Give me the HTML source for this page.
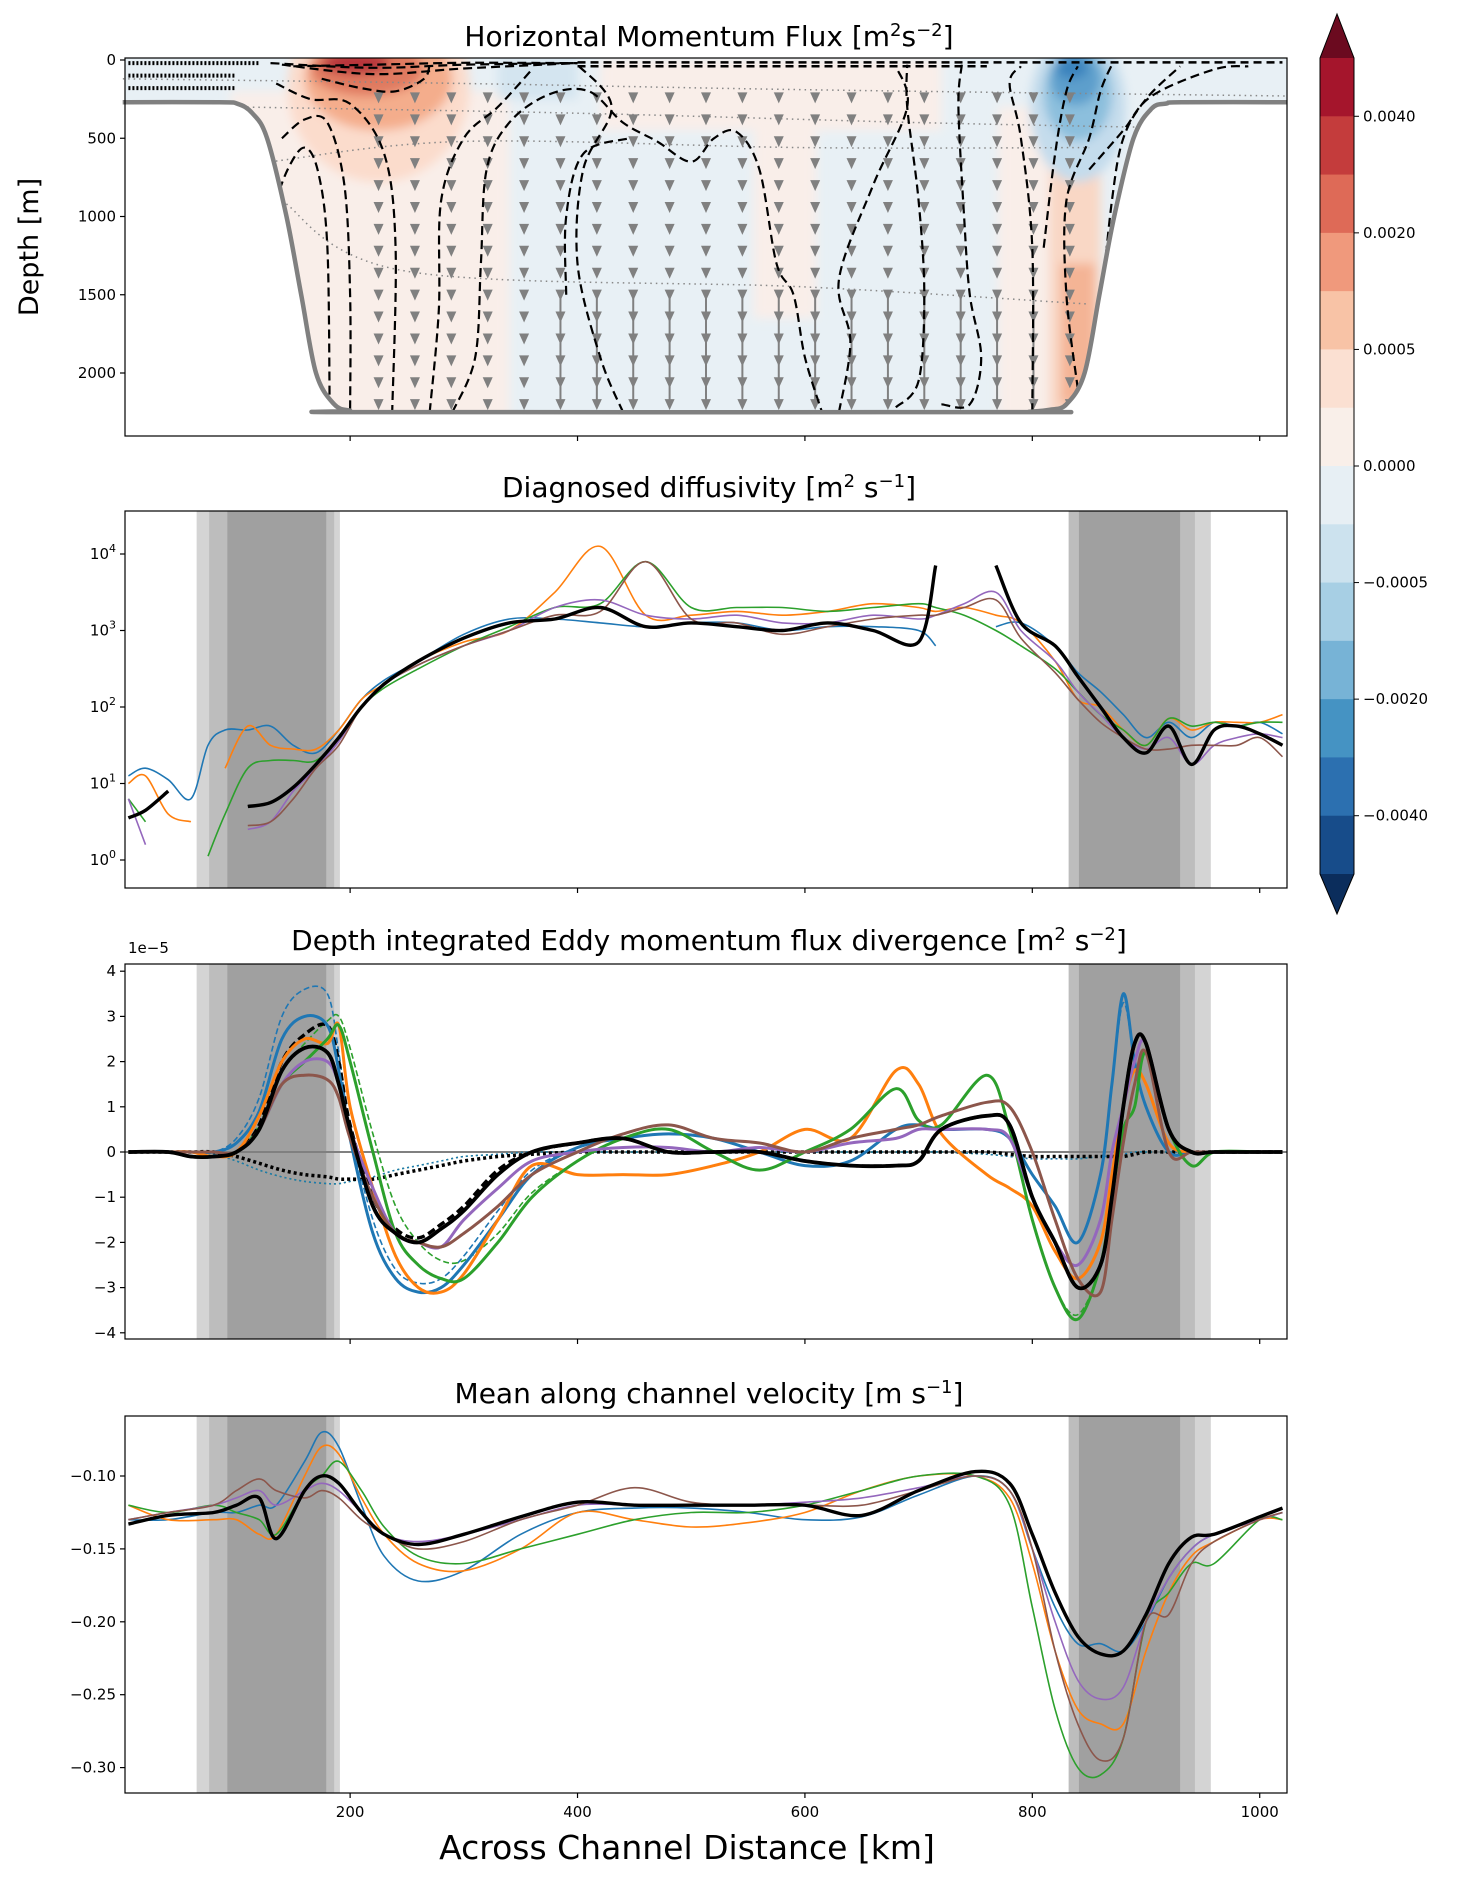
<!DOCTYPE html>
<html><head><meta charset="utf-8">
<style>
html,body{margin:0;padding:0;background:#fff;}
svg{display:block;font-family:"DejaVu Sans","Liberation Sans",sans-serif;}
</style></head>
<body>
<svg id="fig" width="1466" height="1881" viewBox="0 0 1466 1881" xmlns="http://www.w3.org/2000/svg">
<defs>
<clipPath id="basin"><path id="basinPath"/></clipPath>
<clipPath id="c2"><rect x="125" y="511" width="1162" height="377"/></clipPath>
<clipPath id="c3"><rect x="125" y="964" width="1162" height="375"/></clipPath>
<clipPath id="c4"><rect x="125" y="1416" width="1162" height="377"/></clipPath>
<filter id="blur" x="-20%" y="-20%" width="140%" height="140%"><feGaussianBlur stdDeviation="5"/></filter>
</defs>
<g id="root"></g>
</svg>
<script>
// ---------- data ----------
const xTicks = [200,400,600,800,1000];
const depthTicks = [0,500,1000,1500,2000];
const logTicks = [0,1,2,3,4];
const eddyTicks = [-4,-3,-2,-1,0,1,2,3,4];
const velTicks = [-0.30,-0.25,-0.20,-0.15,-0.10];
const cbLabels = ["0.0040","0.0020","0.0005","0.0000","\u22120.0005","\u22120.0020","\u22120.0040"];
const cbColors = ["#a5152c","#c43c3c","#de6a57","#f0997c","#f8c3a6","#fbe0d2","#f9efe9","#e7eff4","#cce2ee","#a7cfe4","#77b3d6","#4593c3","#2c70b0","#174c8a"];
const bandsLeft = [65,76,92,179,186,191];
const bandsRight = [832,841,930,943,957];
// topography
const topoX = [0,85,101,114,127,144,157,170,186,200,212,790,797,815,830,846,859,872,889,905,918,931,1024];
const topoD = [270,270,280,340,500,1000,1500,2000,2200,2240,2250,2250,2248,2235,2200,2000,1500,1000,500,310,278,270,270];
// panel 2 (log10 diffusivity)
const X2 = [5,20,40,60,75,90,110,130,150,170,190,210,230,260,300,340,380,420,460,500,540,580,620,660,700,715,740,768,790,820,840,860,880,900,920,940,960,980,1000,1020];
const diffBlack = [0.55,0.65,0.9,null,null,null,0.7,0.75,0.95,1.25,1.6,2.0,2.3,2.6,2.9,3.1,3.15,3.3,3.05,3.1,3.05,3.0,3.1,3.0,2.85,3.85,null,3.85,3.1,2.8,2.4,2.0,1.6,1.4,1.75,1.25,1.7,1.75,1.65,1.5];
const diffBlue = [1.1,1.2,1.05,0.8,1.5,1.7,1.7,1.75,1.5,1.4,1.7,2.1,2.35,2.6,2.95,3.15,3.15,3.1,3.05,3.1,3.1,3.0,3.05,3.05,3.0,2.8,null,3.05,3.1,2.8,2.45,2.2,1.9,1.6,1.8,1.6,1.8,1.75,1.8,1.65];
const diffOrange = [1.0,1.1,0.6,0.5,null,1.2,1.75,1.5,1.45,1.45,1.7,2.1,2.3,2.6,2.85,3.0,3.5,4.1,3.2,3.2,3.25,3.2,3.25,3.35,3.3,3.25,3.3,3.2,3.1,2.6,2.1,2.0,1.7,1.5,1.85,1.7,1.8,1.8,1.8,1.9];
const diffGreen = [0.8,0.5,null,null,0.05,0.6,1.2,1.3,1.3,1.3,1.6,2.0,2.25,2.5,2.8,3.05,3.3,3.35,3.9,3.3,3.3,3.3,3.25,3.3,3.35,3.3,3.2,3.0,2.8,2.5,2.2,1.9,1.7,1.5,1.85,1.75,1.8,1.75,1.8,1.8];
const diffPurple = [0.8,0.2,null,null,null,null,0.4,0.5,0.9,1.2,1.55,2.0,2.3,2.55,2.8,3.0,3.3,3.4,3.2,3.15,3.2,3.1,3.1,3.2,3.15,3.2,3.35,3.5,3.0,2.6,2.2,1.9,1.6,1.45,1.6,1.25,1.5,1.6,1.65,1.6];
const diffBrown = [null,null,null,null,null,null,0.45,0.5,0.8,1.2,1.5,2.0,2.3,2.55,2.8,3.0,3.2,3.25,3.9,3.15,3.1,2.95,3.05,3.15,3.2,3.2,3.3,3.4,2.9,2.45,2.1,1.8,1.6,1.45,1.45,1.5,1.5,1.5,1.6,1.35];
// panel 3 (x1e-5)
const X3 = [5,40,60,80,100,120,140,160,180,190,200,220,240,260,280,300,330,360,400,440,480,520,560,600,640,680,700,720,760,780,800,820,840,860,870,880,890,900,920,940,960,1000,1020];
const eddyBlack = [0,0,-0.1,-0.1,0,0.5,1.8,2.3,2.2,1.5,0.5,-1.2,-1.8,-2.0,-1.7,-1.3,-0.5,0,0.2,0.3,0,0,0,-0.2,-0.3,-0.3,-0.2,0.5,0.8,0.6,-1.0,-2.0,-3.0,-2.5,-1.0,1.0,2.4,2.4,0.5,0,0,0,0];
const eddyBlue = [0,0,0,0,0.2,0.9,2.5,3.0,2.8,1.8,0.3,-1.8,-2.8,-3.1,-3.0,-2.5,-1.5,-0.5,0.1,0.3,0.4,0.3,0,-0.3,-0.2,0.5,0.6,0.5,0.5,0.3,-0.5,-1.2,-2.0,-0.5,1.5,3.5,2.0,1.0,0,0,0,0,0];
const eddyOrange = [0,0,0,-0.1,0,0.8,2.0,2.5,2.4,2.8,1.0,-0.8,-2.3,-3.0,-3.1,-2.7,-1.5,-0.3,-0.5,-0.5,-0.5,-0.3,0,0.5,0.3,1.8,1.5,0.4,-0.5,-0.8,-1.2,-2.2,-2.8,-2.0,-0.5,1.0,1.8,1.5,0.2,0,0,0,0];
const eddyGreen = [0,0,0,0,0,0.5,1.5,2.0,2.5,2.8,2.0,0,-1.8,-2.5,-2.8,-2.8,-2.0,-1.0,-0.2,0.3,0.5,0,-0.4,0,0.5,1.4,0.7,0.6,1.7,0.5,-1.5,-3.0,-3.7,-2.5,-1.0,0.5,1.0,2.2,0.5,-0.3,0,0,0];
const eddyPurple = [0,0,0,0,0,0.5,1.5,2.0,2.0,1.5,0.5,-0.8,-1.8,-2.0,-2.1,-1.5,-0.8,-0.2,0,0.1,0.1,0,0.1,0,0.2,0.3,0.5,0.5,0.5,0.3,-1.0,-2.0,-2.5,-1.5,0,1.0,2.0,2.4,0.5,0,0,0,0];
const eddyBrown = [0,0,0,0,0,0.5,1.5,1.7,1.6,1.2,0.3,-1.0,-1.8,-2.0,-2.1,-1.8,-1.2,-0.5,0,0.4,0.6,0.3,0.2,0,0.3,0.5,0.6,0.8,1.1,1.0,0,-1.5,-2.8,-3.1,-1.5,0.2,1.5,2.2,0,0,0,0,0];
const eddyBlackDash = [0,0,-0.1,-0.1,0,0.6,2.0,2.6,2.8,2.0,0.6,-1.0,-1.7,-1.9,-1.6,-1.2,-0.4,0,0.2,0.3,0,0,0,-0.2,-0.3,-0.3,-0.2,0.5,0.8,0.6,-1.0,-2.0,-3.0,-2.5,-1.0,1.0,2.4,2.4,0.5,0,0,0,0];
const eddyBlueDash = [0,0,0,0,0.3,1.2,3.0,3.6,3.5,2.2,0.5,-1.5,-2.6,-2.9,-2.8,-2.3,-1.3,-0.4,0.1,0.3,0.4,0.3,0,-0.3,-0.2,0.5,0.6,0.5,0.5,0.3,-0.5,-1.2,-2.0,-0.5,1.5,3.3,2.0,1.0,0,0,0,0,0];
const eddyGreenDash = [0,0,0,0,0,0.6,1.8,2.4,2.9,3.0,2.3,0.4,-1.2,-2.0,-2.4,-2.4,-1.8,-0.9,-0.2,0.3,0.5,0,-0.4,0,0.5,1.4,0.7,0.6,1.7,0.5,-1.5,-3.0,-3.6,-2.5,-1.0,0.5,1.0,2.2,0.5,-0.3,0,0,0];
const eddyBlackDot = [0,0,0,0,-0.1,-0.25,-0.4,-0.5,-0.55,-0.6,-0.6,-0.6,-0.5,-0.4,-0.3,-0.2,-0.1,-0.05,0,0,0,0,0,0,0,0,0,0,0,-0.05,-0.1,-0.1,-0.1,-0.1,-0.1,-0.1,-0.05,0,0,0,0,0,0];
const eddyColorDot = [0,0,0,-0.05,-0.2,-0.4,-0.55,-0.65,-0.7,-0.7,-0.65,-0.55,-0.4,-0.3,-0.2,-0.1,-0.05,0,0,0,0,0,0,0,0,0,0,0,-0.05,-0.1,-0.15,-0.15,-0.15,-0.1,-0.1,-0.05,0,0,0,0,0,0,0];
// panel 4 velocity
const X4 = [5,40,80,100,120,135,160,175,190,210,230,260,300,350,400,450,500,550,600,650,700,750,780,800,820,840,860,880,900,920,940,960,1000,1020];
const velBlack = [-0.133,-0.127,-0.125,-0.12,-0.115,-0.143,-0.11,-0.10,-0.105,-0.125,-0.14,-0.147,-0.14,-0.128,-0.118,-0.12,-0.12,-0.12,-0.12,-0.127,-0.11,-0.097,-0.105,-0.14,-0.18,-0.21,-0.222,-0.22,-0.195,-0.16,-0.142,-0.14,-0.128,-0.122];
const velBlue = [-0.13,-0.13,-0.125,-0.125,-0.12,-0.12,-0.09,-0.07,-0.08,-0.12,-0.155,-0.172,-0.165,-0.14,-0.125,-0.122,-0.122,-0.125,-0.13,-0.128,-0.113,-0.10,-0.11,-0.15,-0.19,-0.215,-0.215,-0.22,-0.2,-0.17,-0.15,-0.14,-0.13,-0.125];
const velOrange = [-0.12,-0.13,-0.13,-0.13,-0.14,-0.14,-0.1,-0.08,-0.085,-0.115,-0.14,-0.16,-0.165,-0.15,-0.125,-0.13,-0.135,-0.132,-0.125,-0.11,-0.10,-0.10,-0.115,-0.16,-0.22,-0.26,-0.27,-0.27,-0.22,-0.18,-0.155,-0.145,-0.13,-0.13];
const velGreen = [-0.12,-0.125,-0.12,-0.125,-0.13,-0.14,-0.11,-0.10,-0.09,-0.11,-0.135,-0.155,-0.16,-0.15,-0.14,-0.13,-0.125,-0.125,-0.12,-0.11,-0.10,-0.10,-0.12,-0.19,-0.26,-0.30,-0.305,-0.28,-0.2,-0.18,-0.16,-0.16,-0.13,-0.13];
const velPurple = [-0.13,-0.125,-0.12,-0.115,-0.11,-0.12,-0.11,-0.105,-0.11,-0.125,-0.14,-0.145,-0.14,-0.13,-0.12,-0.12,-0.12,-0.12,-0.118,-0.115,-0.108,-0.10,-0.11,-0.15,-0.20,-0.24,-0.253,-0.245,-0.2,-0.17,-0.15,-0.14,-0.13,-0.125];
const velBrown = [-0.13,-0.125,-0.12,-0.11,-0.102,-0.11,-0.115,-0.11,-0.115,-0.13,-0.14,-0.15,-0.145,-0.13,-0.12,-0.108,-0.118,-0.12,-0.12,-0.12,-0.11,-0.10,-0.11,-0.15,-0.22,-0.27,-0.295,-0.28,-0.2,-0.195,-0.16,-0.145,-0.13,-0.125];
// contours in panel 1 as [km, depth] pairs
const contour1 = [[130,1000],[145,700],[160,560],[172,720],[180,1200],[182,2250]];
const contour2 = [[140,500],[160,380],[180,400],[195,800],[200,1500],[200,2250]];
const contour3 = [[135,150],[165,250],[200,280],[230,600],[240,1200],[237,2250]];
const contour4 = [[175,120],[210,180],[240,200],[265,120],[270,20]];
const contour5 = [[270,2250],[278,1600],[280,900],[300,500],[330,300],[360,60]];
const contour6 = [[290,2250],[310,1900],[315,1300],[320,700],[340,400],[375,220],[410,200],[440,400],[470,520],[500,650],[520,500],[540,460],[560,700],[575,1300],[590,1500],[600,1900],[615,2250]];
const contour7 = [[390,1500],[390,1000],[405,600],[445,500]];
const contour8 = [[440,2250],[420,1900],[400,1300],[405,700],[430,300],[400,30]];
const contour9 = [[630,2250],[640,1800],[630,1400],[660,800],[690,300],[680,40]];
const contour10 = [[680,2220],[700,2050],[705,1500],[700,900],[690,300],[690,30]];
const contour11 = [[720,2200],[745,2200],[755,1900],[745,1500],[740,1000],[735,300],[738,30]];
const contour12 = [[800,2250],[800,1200],[790,500],[780,150],[790,40]];
const contour13 = [[810,1200],[820,600],[830,200],[840,40]];
const contour14 = [[840,2100],[830,1500],[830,900],[850,500],[860,200],[870,30]];
const contour15 = [[860,1600],[870,900],[880,500],[900,250],[930,40]];
const contour16 = [[850,700],[880,450],[905,230],[960,60],[990,40]];

// ---------- helpers ----------
const NS = "http://www.w3.org/2000/svg";
const root = document.getElementById('root');
const AX_L = 125, AX_R = 1287;
const X_MIN = 2, X_MAX = 1024;
function sx(v){ return AX_L + (v - X_MIN) / (X_MAX - X_MIN) * (AX_R - AX_L); }
function mk(tag, attrs, parent){ const e = document.createElementNS(NS, tag); for (const k in attrs) e.setAttribute(k, attrs[k]); (parent||root).appendChild(e); return e; }
function smoothPath(pts){
  if (pts.length < 2) return '';
  let d = 'M' + pts[0][0].toFixed(1) + ',' + pts[0][1].toFixed(1);
  for (let i = 0; i < pts.length - 1; i++){
    const p0 = pts[i-1] || pts[i], p1 = pts[i], p2 = pts[i+1], p3 = pts[i+2] || p2;
    const c1x = p1[0] + (p2[0]-p0[0])/6, c1y = p1[1] + (p2[1]-p0[1])/6;
    const c2x = p2[0] - (p3[0]-p1[0])/6, c2y = p2[1] - (p3[1]-p1[1])/6;
    d += 'C' + c1x.toFixed(1)+','+c1y.toFixed(1)+' '+c2x.toFixed(1)+','+c2y.toFixed(1)+' '+p2[0].toFixed(1)+','+p2[1].toFixed(1);
  }
  return d;
}
function series(xs, ys, yfn, color, width, name, clip, dash){
  let d = '', seg = [];
  for (let i = 0; i < xs.length; i++){
    if (ys[i] === null){ d += smoothPath(seg); seg = []; continue; }
    seg.push([sx(xs[i]), yfn(ys[i])]);
  }
  d += smoothPath(seg);
  const p = mk('path', {d: d, fill: 'none', stroke: color, 'stroke-width': width, 'stroke-linejoin': 'round', 'clip-path': 'url(#' + clip + ')'});
  if (dash) p.setAttribute('stroke-dasharray', dash);
  
  
  return p;
}
function text(x, y, s, size, anchor, name, extra){
  const t = mk('text', Object.assign({x: x, y: y, 'font-size': size, 'text-anchor': anchor || 'middle', fill: '#000'}, extra || {}));
  t.innerHTML = s;
  
  
  return t;
}
function frame(top, bot, name){
  const r = mk('rect', {x: AX_L, y: top, width: AX_R-AX_L, height: bot-top, fill: 'none', stroke: '#000', 'stroke-width': 1.2});
  
  
  xTicks.forEach(v => { mk('line', {x1: sx(v), x2: sx(v), y1: bot, y2: bot+5, stroke: '#000', 'stroke-width': 1.2}); });
}
function yTicks(vals, yfn, labelFn, name){
  vals.forEach(v => {
    const y = yfn(v);
    mk('line', {x1: AX_L-5, x2: AX_L, y1: y, y2: y, stroke: '#000', 'stroke-width': 1.2});
    text(AX_L-9, y+5, labelFn(v), 15, 'end', name);
  });
}
function bands(top, bot){
  const g = mk('g', {});
  
  
  [[bandsLeft[0],bandsLeft[5],'#d4d4d4'],[bandsLeft[1],bandsLeft[4],'#bdbdbd'],[bandsLeft[2],bandsLeft[3],'#a0a0a0'],
   [bandsRight[0],bandsRight[4],'#d4d4d4'],[bandsRight[0],bandsRight[3],'#bdbdbd'],[bandsRight[1],bandsRight[2],'#a0a0a0']].forEach(b => {
    mk('rect', {x: sx(b[0]), y: top, width: sx(b[1])-sx(b[0]), height: bot-top, fill: b[2]}, g);
  });
}

// ---------- panel 1 ----------
const P1T = 58, P1B = 436;
function sd(v){ return 60 + v / 2000 * (373 - 60); }
const topoPts = topoX.map((x,i) => [sx(x), sd(topoD[i])]);
let bp = 'M' + sx(topoX[0]) + ',' + (P1T) + 'L' + topoPts[0][0] + ',' + topoPts[0][1] + smoothPath(topoPts).replace(/^M[^C]*/, '');
bp += 'L' + sx(topoX[topoX.length-1]) + ',' + P1T + 'Z';
document.getElementById('basinPath').setAttribute('d', bp);
const field = mk('g', {'clip-path': 'url(#basin)'});


mk('rect', {x: AX_L, y: P1T, width: AX_R-AX_L, height: P1B-P1T, fill: '#e8f0f5'}, field);
function box(x0, x1, d0, d1, c, g){ mk('rect', {x: sx(x0), y: sd(d0), width: sx(x1)-sx(x0), height: sd(d1)-sd(d0), fill: c}, g); }
const blobs = mk('g', {filter: 'url(#blur)'}, field);
box(95, 340, 200, 2300, '#f9eee9', blobs);
box(420, 720, 0, 450, '#f9eee9', blobs);
box(555, 610, 450, 1650, '#f9eee9', blobs);
box(770, 830, 300, 2300, '#f9eee9', blobs);
box(815, 860, 700, 2300, '#f9d7c5', blobs);
box(825, 855, 1300, 2200, '#f4b495', blobs);
box(330, 400, 0, 250, '#d4e5f0', blobs);
[[225,180,80,600,'#fbdccc'],[225,120,65,330,'#f4ad8c'],[215,60,50,170,'#e07a60'],[205,20,30,70,'#b8303a'],
 [840,300,42,480,'#c4dcec'],[840,220,30,300,'#8cbfdd'],[838,120,22,170,'#5d9fcc'],[835,50,14,70,'#3a83bd']
].forEach(e => mk('ellipse', {cx: sx(e[0]), cy: sd(e[1]), rx: sx(e[2])-sx(0), ry: sd(e[3])-sd(0), fill: e[4]}, blobs));
// dotted isopycnals
[[[0,120],[300,150],[600,190],[1024,230]],[[100,300],[400,340],[700,400],[900,430]],[[130,650],[300,520],[600,560],[850,560]],[[140,900],[250,1350],[600,1450],[850,1560]]].forEach(l => {
  mk('path', {d: smoothPath(l.map(q => [sx(q[0]), sd(q[1])])), fill: 'none', stroke: '#888', 'stroke-width': 1.5, 'stroke-dasharray': '1.5 4'}, field);
});
// arrows
const arr = mk('g', {}, field);
for (let x = 225; x <= 850; x += 32){
  for (let d = 220; d <= 2250; d += 140){
    const cx = sx(x), cy = sd(d);
    const big = d > 1600 && x > 380 && x < 830;
    if (big) mk('line', {x1: cx, x2: cx, y1: cy-18, y2: cy, stroke: '#808080', 'stroke-width': 2}, arr);
    mk('path', {d: 'M' + (cx-5) + ',' + (cy-2) + 'L' + (cx+5) + ',' + (cy-2) + 'L' + cx + ',' + (cy+9) + 'Z', fill: '#808080'}, arr);
  }
}
// contours
[contour1,contour2,contour3,contour4,contour5,contour6,contour7,contour8,contour9,contour10,contour11,contour12,contour13,contour14,contour15,contour16].forEach((c,i) => {
  const p = mk('path', {d: smoothPath(c.map(q => [sx(q[0]), sd(q[1])])), fill: 'none', stroke: '#000', 'stroke-width': 2.2, 'stroke-dasharray': '9 5'}, field);
  
  
});
[[130,50],[140,90],[150,30]].forEach((h,i) => {
  mk('path', {d: smoothPath([[sx(h[0]), sd(20+i*10)],[sx(220), sd(h[1])],[sx(300), sd(h[1]*0.6)],[sx(400), sd(20)]]), fill: 'none', stroke: '#000', 'stroke-width': 2.2, 'stroke-dasharray': '9 5'}, field);
});
mk('path', {d: 'M' + sx(400) + ',' + sd(15) + 'L' + sx(1020) + ',' + sd(15) + 'M' + sx(400) + ',' + sd(40) + 'L' + sx(760) + ',' + sd(40), stroke: '#000', 'stroke-width': 2.5, 'stroke-dasharray': '8 5', fill: 'none'}, field);
mk('path', {d: 'M' + sx(5) + ',' + sd(100) + 'L' + sx(100) + ',' + sd(100) + 'M' + sx(5) + ',' + sd(20) + 'L' + sx(120) + ',' + sd(20) + 'M' + sx(5) + ',' + sd(180) + 'L' + sx(100) + ',' + sd(180), stroke: '#000', 'stroke-width': 4, 'stroke-dasharray': '2 2'}, field);
const topoLine = mk('path', {d: smoothPath(topoPts), fill: 'none', stroke: '#808080', 'stroke-width': 4.5});


frame(P1T, P1B, 'flux-axes');
yTicks(depthTicks, sd, v => v, 'depth-tick-label');
text(709, 46, 'Horizontal Momentum Flux [m<tspan font-size="18" dy="-10">2</tspan><tspan dy="10">s</tspan><tspan font-size="18" dy="-10">\u22122</tspan><tspan dy="10">]</tspan>', 28, 'middle', 'flux-title');
text(38, 247, 'Depth [m]', 27, 'middle', 'depth-axis-title', {transform: 'rotate(-90 38 247)'});

// ---------- colorbar ----------
const CB_X = 1320, CB_W = 34, CB_T = 58, CB_B = 874;
const cb = mk('g', {});


const bh = (CB_B - CB_T) / cbColors.length;
cbColors.forEach((c,i) => mk('rect', {x: CB_X, y: CB_T + i*bh, width: CB_W, height: bh+0.5, fill: c}, cb));
mk('path', {d: 'M'+CB_X+','+CB_T+'L'+(CB_X+CB_W/2)+',14L'+(CB_X+CB_W)+','+CB_T+'Z', fill: '#6b0a1f'}, cb);
mk('path', {d: 'M'+CB_X+','+CB_B+'L'+(CB_X+CB_W/2)+',914L'+(CB_X+CB_W)+','+CB_B+'Z', fill: '#0b2d5c'}, cb);
mk('path', {d: 'M'+CB_X+','+CB_T+'L'+(CB_X+CB_W/2)+',14L'+(CB_X+CB_W)+','+CB_T+'L'+(CB_X+CB_W)+','+CB_B+'L'+(CB_X+CB_W/2)+',914L'+CB_X+','+CB_B+'Z', fill: 'none', stroke: '#000', 'stroke-width': 1}, cb);
cbLabels.forEach((l,i) => {
  const y = CB_T + bh*(1 + 2*i);
  mk('line', {x1: CB_X+CB_W, x2: CB_X+CB_W+5, y1: y, y2: y, stroke: '#000', 'stroke-width': 1}, cb);
  text(CB_X+CB_W+9, y+5, l, 15, 'start', 'colorbar-tick-label');
});

// ---------- panel 2 ----------
const P2T = 511, P2B = 888;
function sl(v){ return 860 + (0 - v) * 76.5; }
bands(P2T, P2B);
series(X2, diffBlue, sl, '#1f77b4', 1.6, 'diffusivity-blue', 'c2');
series(X2, diffOrange, sl, '#ff7f0e', 1.6, 'diffusivity-orange', 'c2');
series(X2, diffGreen, sl, '#2ca02c', 1.6, 'diffusivity-green', 'c2');
series(X2, diffPurple, sl, '#9467bd', 1.6, 'diffusivity-purple', 'c2');
series(X2, diffBrown, sl, '#8c564b', 1.6, 'diffusivity-brown', 'c2');
series(X2, diffBlack, sl, '#000', 3.4, 'diffusivity-black', 'c2');
frame(P2T, P2B, 'diffusivity-axes');
yTicks(logTicks, sl, v => '10<tspan font-size="11" dy="-7">' + v + '</tspan>', 'log-tick-label');
text(709, 497, 'Diagnosed diffusivity [m<tspan font-size="18" dy="-10">2</tspan><tspan dy="10"> s</tspan><tspan font-size="18" dy="-10">\u22121</tspan><tspan dy="10">]</tspan>', 28, 'middle', 'diffusivity-title');

// ---------- panel 3 ----------
const P3T = 964, P3B = 1339;
function se(v){ return 1152 - v * 45.2; }
bands(P3T, P3B);
mk('line', {x1: AX_L, x2: AX_R, y1: se(0), y2: se(0), stroke: '#808080', 'stroke-width': 2});
series(X3, eddyColorDot, se, '#2ca02c', 1.5, 'eddy-green-dotted', 'c3', '2 3');
series(X3, eddyColorDot, se, '#1f77b4', 1.5, 'eddy-blue-dotted', 'c3', '2 3');
series(X3, eddyBlackDot, se, '#000', 3.5, 'eddy-black-dotted', 'c3', '3 3');
series(X3, eddyBlueDash, se, '#1f77b4', 1.6, 'eddy-blue-dashed', 'c3', '6 3');
series(X3, eddyGreenDash, se, '#2ca02c', 1.6, 'eddy-green-dashed', 'c3', '6 3');
series(X3, eddyBlackDash, se, '#000', 3.4, 'eddy-black-dashed', 'c3', '8 4');
series(X3, eddyBlue, se, '#1f77b4', 3, 'eddy-blue', 'c3');
series(X3, eddyOrange, se, '#ff7f0e', 3, 'eddy-orange', 'c3');
series(X3, eddyGreen, se, '#2ca02c', 3, 'eddy-green', 'c3');
series(X3, eddyPurple, se, '#9467bd', 3, 'eddy-purple', 'c3');
series(X3, eddyBrown, se, '#8c564b', 3, 'eddy-brown', 'c3');
series(X3, eddyBlack, se, '#000', 3.8, 'eddy-black', 'c3');
frame(P3T, P3B, 'eddy-axes');
yTicks(eddyTicks, se, v => v < 0 ? '\u2212' + (-v) : v, 'eddy-tick-label');
text(128, 953, '1e\u22125', 15, 'start', 'eddy-scale-label');
text(709, 950, 'Depth integrated Eddy momentum flux divergence [m<tspan font-size="18" dy="-10">2</tspan><tspan dy="10"> s</tspan><tspan font-size="18" dy="-10">\u22122</tspan><tspan dy="10">]</tspan>', 28, 'middle', 'eddy-title');

// ---------- panel 4 ----------
const P4T = 1416, P4B = 1793;
function sv(v){ return 1476 + (-0.10 - v) * 1458; }
bands(P4T, P4B);
series(X4, velBlue, sv, '#1f77b4', 1.6, 'velocity-blue', 'c4');
series(X4, velOrange, sv, '#ff7f0e', 1.6, 'velocity-orange', 'c4');
series(X4, velGreen, sv, '#2ca02c', 1.6, 'velocity-green', 'c4');
series(X4, velPurple, sv, '#9467bd', 1.6, 'velocity-purple', 'c4');
series(X4, velBrown, sv, '#8c564b', 1.6, 'velocity-brown', 'c4');
series(X4, velBlack, sv, '#000', 3.4, 'velocity-black', 'c4');
frame(P4T, P4B, 'velocity-axes');
yTicks(velTicks, sv, v => '\u2212' + (-v).toFixed(2), 'velocity-tick-label');
xTicks.forEach(v => text(sx(v), 1817, v, 15, 'middle', 'x-tick-label'));
text(709, 1403, 'Mean along channel velocity [m s<tspan font-size="18" dy="-10">\u22121</tspan><tspan dy="10">]</tspan>', 28, 'middle', 'velocity-title');
text(687, 1859, 'Across Channel Distance [km]', 33, 'middle', 'x-axis-title');
</script>
</body></html>
